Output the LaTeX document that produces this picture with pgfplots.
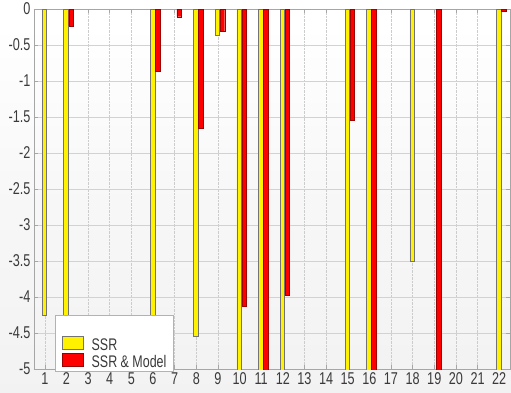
\documentclass[border=0pt]{standalone}
\usepackage{pgfplots}
\pgfplotsset{compat=1.18}
\usepackage{fontspec}
\setmainfont{Liberation Sans}
\definecolor{tickgray}{HTML}{3A3A3A}
\pgfdeclareverticalshading{bgshade}{100bp}{color(0bp)=(black!7); color(50bp)=(black!3); color(72bp)=(white); color(100bp)=(white)}
\begin{document}
\begin{tikzpicture}
\path[use as bounding box] (-34bp,-24bp) rectangle (477bp,369bp);
\shade[shading=bgshade] (-34bp,-24bp) rectangle (477bp,369bp);
\begin{axis}[
  at={(0,0)}, anchor=south west,
  scale only axis, width=476bp, height=360bp,
  xmin=0.5, xmax=22.5, ymin=-5, ymax=0,
  bar width=0.21,
  xtick={1,...,22},
  ytick={-5,-4.5,-4,-3.5,-3,-2.5,-2,-1.5,-1,-0.5,0},
  /pgf/number format/fixed,
  /pgf/number format/precision=1,
  /pgf/number format/assume math mode=true,
  xticklabel={\scalebox{1}[1.35]{\pgfmathprintnumber{\tick}}},
  yticklabel={\scalebox{1}[1.35]{\pgfmathprintnumber{\tick}}},
  tick label style={font=\fontsize{12.7}{15}\selectfont, text=tickgray},
  grid=major,
  x grid style={gray!40, densely dotted, line width=0.5bp},
  y grid style={gray!35, line width=0.6bp},
  axis line style={gray!70},
  tick style={gray!70, line width=0.5bp},
  tick align=inside, major tick length=4bp,
  legend style={at={(0.044,-0.008)}, anchor=south west, draw=gray!60, fill=white,
    font=\fontsize{12.5}{15}\selectfont, text=tickgray,
    inner xsep=7bp, inner ysep=0bp, row sep=-1.5bp, column sep=8bp,
    nodes={inner sep=0pt, text height=11bp, text depth=4bp}},
  legend cell align=left,
  legend image code/.code={\draw[#1, bar shift=0pt] (0bp,-2bp) rectangle (21bp,11bp);},
]
\addlegendimage{empty legend}
\addlegendentry[text height=18.5bp]{}
\addplot[ybar, bar shift=-0.02, fill=yellow, draw=black!55, line width=0.5bp] coordinates {
(1,-4.26) (2,-4.27) (6,-4.27) (8,-4.54) (9,-0.37) (10,-5.5) (11,-5.5) (12,-5.5)
(15,-5.5) (16,-5.5) (18,-3.51) (22,-5.5)};
\addlegendentry{\scalebox{1}[1.35]{SSR}}
\addplot[ybar, bar shift=0.21, fill=red, draw=red!60!black, line width=0.4bp] coordinates {
(2,-0.236) (6,-0.87) (7,-0.107) (8,-1.65) (9,-0.305) (10,-4.125) (11,-5.5) (12,-3.97)
(15,-1.55) (16,-5.5) (19,-5.5) (22,-0.03)};
\addlegendentry{\scalebox{1}[1.35]{SSR \& Model}}
\end{axis}
\end{tikzpicture}
\end{document}
